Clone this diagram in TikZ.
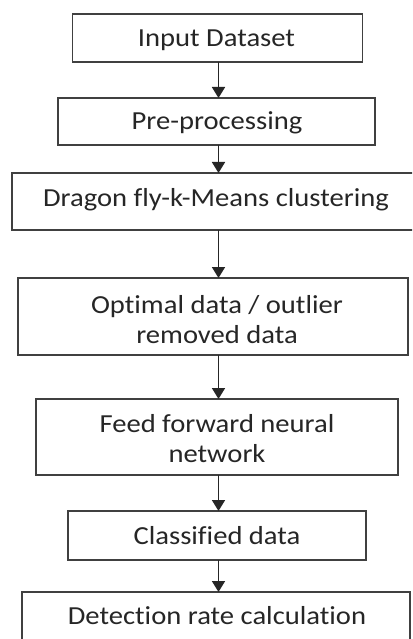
\documentclass[tikz,border=0pt]{standalone}
\usepackage{fontspec}
\setmainfont{Carlito}[FakeStretch=1.1, Ligatures=NoCommon]
\usetikzlibrary{arrows.meta}
\begin{document}
\begin{tikzpicture}[x=1pt,y=-1pt,
  box/.style={draw=black!75, line width=1.6pt, fill=white, inner sep=0pt, outer sep=0pt},
  txt/.style={text=black!85, font=\fontsize{26}{30}\selectfont, align=center, inner sep=0pt, anchor=base},
  arr/.style={draw=black!85, line width=1.8pt, -{Triangle[width=13pt,length=11pt]}}]
\useasboundingbox (0,0) rectangle (412,639);
\clip (0,0) rectangle (412,639);
\fill[white] (0,0) rectangle (412,639);
\coordinate (ax) at (218.5,0);
\node[box, minimum width=290pt, minimum height=48pt] (b1) at (217.5,38) {};
\node[box, minimum width=317pt, minimum height=47pt] (b2) at (216.5,121.5) {};
\node[box, minimum width=418pt, minimum height=57pt] (b3) at (221,201.5) {};
\node[box, minimum width=390pt, minimum height=77pt] (b4) at (213,316.5) {};
\node[box, minimum width=362pt, minimum height=76pt] (b5) at (217,437) {};
\node[box, minimum width=298pt, minimum height=49pt] (b6) at (217,535.5) {};
\node[box, minimum width=388pt, minimum height=88pt] (b7) at (216,636) {};
\node[txt] (t1) at (216.5,47) {Input Dataset};
\node[txt] (t2) at (217,130) {Pre-processing};
\node[txt] (t3) at (216,206) {Dragon fly-k-Means clustering};
\node[txt] (t4) at (217,343) {Optimal data / outlier\\removed data};
\node[txt] (t5) at (217,462) {Feed forward neural\\network};
\node[txt] (t6) at (217,544) {Classified data};
\node[txt] (t7) at (217,624) {Detection rate calculation};
\draw[arr] (b1.south -| ax) -- (b2.north -| ax);
\draw[arr] (b2.south -| ax) -- (b3.north -| ax);
\draw[arr] (b3.south -| ax) -- (b4.north -| ax);
\draw[arr] (b4.south -| ax) -- (b5.north -| ax);
\draw[arr] (b5.south -| ax) -- (b6.north -| ax);
\draw[arr] (b6.south -| ax) -- (b7.north -| ax);
\end{tikzpicture}
\end{document}
